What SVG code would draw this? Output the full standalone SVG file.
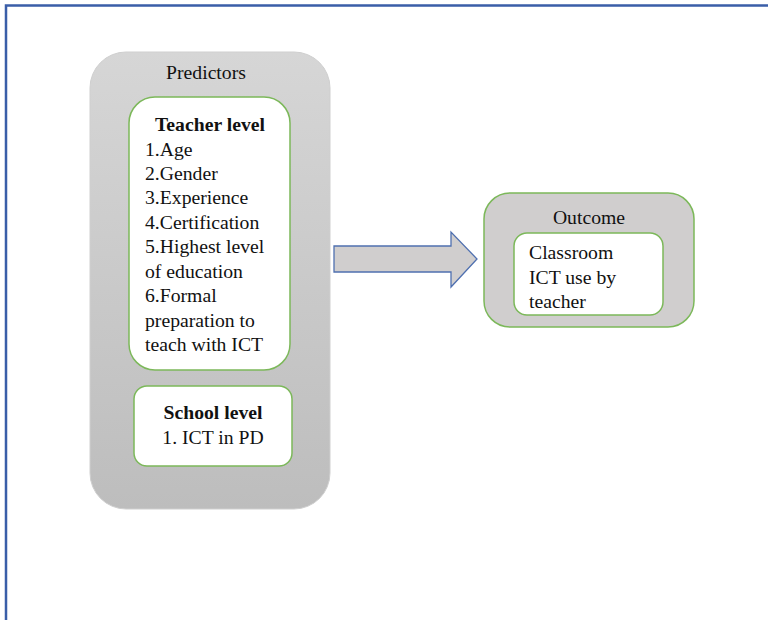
<svg xmlns="http://www.w3.org/2000/svg" width="768" height="620" viewBox="0 0 768 620">
<defs>
<linearGradient id="gPred" x1="0" y1="0" x2="0" y2="1">
<stop offset="0" stop-color="#d6d6d6"/>
<stop offset="1" stop-color="#bdbdbd"/>
</linearGradient>
<style>
text{font-family:"Liberation Serif","Times New Roman",serif;font-size:19.7px;fill:#111}
.b{font-weight:bold}
.inner{fill:#fff;stroke:#7cb85a;stroke-width:1.5}
.c{text-anchor:middle}
</style>
</defs>
<rect x="0" y="0" width="768" height="620" fill="#fff"/>
<path d="M6 620 V5.5 H768" fill="none" stroke="#3a5ea8" stroke-width="2.5"/>
<g id="predictors">
<rect x="90" y="52" width="240" height="457" rx="36" fill="url(#gPred)" stroke="#cfcfcf" stroke-width="1"/>
<text x="206" y="79" class="c">Predictors</text>
</g>
<g id="teacher-level">
<rect x="129" y="97" width="161" height="273" rx="26" class="inner"/>
<text x="210" y="131" class="c b">Teacher level</text>
<text x="145" y="156">1.Age</text>
<text x="145" y="180">2.Gender</text>
<text x="145" y="204">3.Experience</text>
<text x="145" y="229">4.Certification</text>
<text x="145" y="253">5.Highest level</text>
<text x="145" y="278">of education</text>
<text x="145" y="302">6.Formal</text>
<text x="145" y="327">preparation to</text>
<text x="145" y="351">teach with ICT</text>
</g>
<g id="school-level">
<rect x="134" y="386" width="158" height="80" rx="13" class="inner"/>
<text x="213" y="419" class="c b">School level</text>
<text x="213" y="444" class="c">1. ICT in PD</text>
</g>
<g id="connectors">
<path d="M334 246 H451 V232 L477 259 L451 287 V272 H334 Z" fill="#d0cece" stroke="#4f70b0" stroke-width="1.3"/>
</g>
<g id="outcome">
<rect x="484" y="193" width="210" height="134" rx="26" fill="#d0cece" stroke="#7cb85a" stroke-width="1.5"/>
<text x="589" y="224" class="c">Outcome</text>
</g>
<g id="classroom-ict">
<rect x="514" y="233" width="149" height="82" rx="13" class="inner"/>
<text x="529" y="259">Classroom</text>
<text x="529" y="284">ICT use by</text>
<text x="529" y="308">teacher</text>
</g>
</svg>
